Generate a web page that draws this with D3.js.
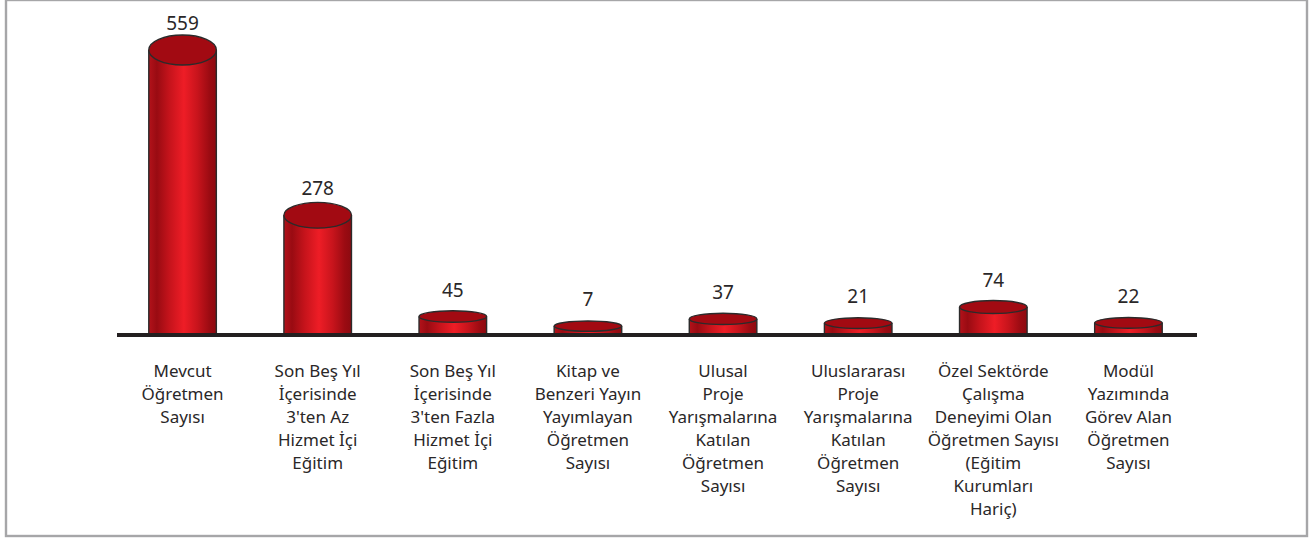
<!DOCTYPE html>
<html>
<head>
<meta charset="utf-8">
<script src="https://cdn.jsdelivr.net/npm/d3@7"></script>
<style>
  html, body { margin: 0; padding: 0; background: #ffffff; }
  svg { display: block; }
  .valueLabel { font-family: "Noto Sans", sans-serif; font-size: 19px; fill: #2a2728; }
  .catLabel { font-family: "Noto Sans", sans-serif; font-size: 17px; fill: #2a2728; }
</style>
</head>
<body>
<div id="chart"></div>
<script>
// category labels, already broken into lines like the original
var categoryLines = [
  ["Mevcut", "Öğretmen", "Sayısı"],
  ["Son Beş Yıl", "İçerisinde", "3'ten Az", "Hizmet İçi", "Eğitim"],
  ["Son Beş Yıl", "İçerisinde", "3'ten Fazla", "Hizmet İçi", "Eğitim"],
  ["Kitap ve", "Benzeri Yayın", "Yayımlayan", "Öğretmen", "Sayısı"],
  ["Ulusal", "Proje", "Yarışmalarına", "Katılan", "Öğretmen", "Sayısı"],
  ["Uluslararası", "Proje", "Yarışmalarına", "Katılan", "Öğretmen", "Sayısı"],
  ["Özel Sektörde", "Çalışma", "Deneyimi Olan", "Öğretmen Sayısı", "(Eğitim", "Kurumları", "Hariç)"],
  ["Modül", "Yazımında", "Görev Alan", "Öğretmen", "Sayısı"]
];
var categories = categoryLines.map(l => l.join(" "));
var values = [559, 278, 45, 7, 37, 21, 74, 22];

var svgWidth = 1310;
var svgHeight = 538;
var baseY = 335;

var svg = d3.select("#chart")
  .append("svg")
  .attr("width", svgWidth)
  .attr("height", svgHeight);

// outer frame
svg.append("rect")
  .attr("x", 6)
  .attr("y", 0)
  .attr("width", 1301)
  .attr("height", 536)
  .attr("fill", "none")
  .attr("stroke", "#a6a6a8")
  .attr("stroke-width", 2.4);

// gradient for the cylinder bodies
var defs = svg.append("defs");
var grad = defs.append("linearGradient")
  .attr("id", "cyl")
  .attr("x1", "0%").attr("x2", "100%")
  .attr("y1", "0%").attr("y2", "0%");
[[0, "#b3121a"], [0.12, "#990b12"], [0.3, "#c4131b"], [0.52, "#ee1d26"],
 [0.72, "#c8141c"], [0.9, "#9b0b12"], [1, "#8c0a10"]].forEach(function(s) {
  grad.append("stop").attr("offset", s[0]).attr("stop-color", s[1]);
});

// scales
var xScale = d3.scaleBand()
  .domain(categories)
  .range([115, 1196])
  .paddingInner(0.5)
  .paddingOuter(0.25);

var yScale = d3.scalePow()
  .exponent(1.3)
  .domain([0, d3.max(values)])
  .range([327, 50]);

// flatter tops for the short cylinders
var ryScale = d3.scaleLinear()
  .domain([0, 150])
  .range([4.5, 15])
  .clamp(true);

var data = values.map((v, i) => ({ cat: categories[i], lines: categoryLines[i], value: v }));

var bars = svg.selectAll("g.bar")
  .data(data)
  .enter()
  .append("g")
  .attr("class", "bar");

// body
bars.append("rect")
  .attr("x", d => xScale(d.cat))
  .attr("y", d => yScale(d.value))
  .attr("width", xScale.bandwidth())
  .attr("height", d => baseY - yScale(d.value))
  .attr("fill", "url(#cyl)");

// side outlines
bars.append("path")
  .attr("d", d => {
    var x0 = xScale(d.cat), x1 = x0 + xScale.bandwidth(), y0 = yScale(d.value);
    return `M${x0},${y0}V${baseY}M${x1},${y0}V${baseY}`;
  })
  .attr("stroke", "#2b2b2b")
  .attr("stroke-width", 1.4)
  .attr("fill", "none");

// top ellipse
bars.append("ellipse")
  .attr("cx", d => xScale(d.cat) + xScale.bandwidth() / 2)
  .attr("cy", d => yScale(d.value))
  .attr("rx", xScale.bandwidth() / 2)
  .attr("ry", d => ryScale(baseY - yScale(d.value)))
  .attr("fill", "#a20a12")
  .attr("stroke", "#2b2b2b")
  .attr("stroke-width", 1.4);

// value labels
bars.append("text")
  .attr("class", "valueLabel")
  .attr("x", d => xScale(d.cat) + xScale.bandwidth() / 2)
  .attr("y", d => yScale(d.value) - 20)
  .attr("text-anchor", "middle")
  .text(d => d.value);

// base line
svg.append("line")
  .attr("x1", 117)
  .attr("x2", 1197)
  .attr("y1", baseY)
  .attr("y2", baseY)
  .attr("stroke", "#231f20")
  .attr("stroke-width", 4);

// category labels
var labels = svg.selectAll("text.catLabel")
  .data(data)
  .enter()
  .append("text")
  .attr("class", "catLabel")
  .attr("text-anchor", "middle");

labels.selectAll("tspan")
  .data(d => d.lines.map(l => ({ line: l, cx: xScale(d.cat) + xScale.bandwidth() / 2 })))
  .enter()
  .append("tspan")
  .attr("x", t => t.cx)
  .attr("y", (t, i) => 377 + i * 23)
  .text(t => t.line);
</script>
</body>
</html>
